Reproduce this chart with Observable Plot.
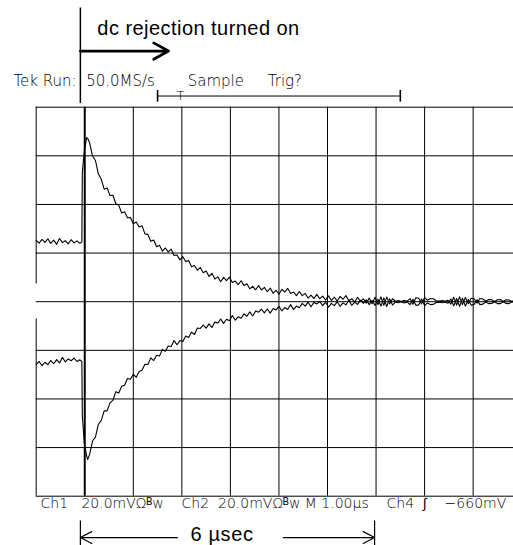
<!DOCTYPE html>
<html>
<head>
<meta charset="utf-8">
<script src="https://cdn.jsdelivr.net/npm/d3@7"></script>
<script src="https://cdn.jsdelivr.net/npm/@observablehq/plot@0.6"></script>
<style>
  html, body { margin: 0; padding: 0; background: #fff; }
  svg text { white-space: pre; }
</style>
</head>
<body>
<div id="chart"></div>
<script>
// Sample times (µs, 1.00 µs/div) shared by both channels
const timeUs = [
  0, 0.06, 0.12, 0.18, 0.24, 0.30, 0.36, 0.42, 0.48, 0.54, 0.60, 0.66, 0.72, 0.78, 0.84, 0.90, 0.94,
  0.95, 0.99, 1.04, 1.06,
  1.10,1.16,1.22,1.28,1.34,1.40,1.46,1.52,1.58,1.64,
  1.70,1.76,1.82,1.88,1.94,2.00,2.06,2.12,2.18,2.24,
  2.30,2.36,2.42,2.48,2.54,2.60,2.66,2.72,2.78,2.84,
  2.90,2.96,3.02,3.08,3.14,3.20,3.26,3.32,3.38,3.44,
  3.50,3.56,3.62,3.68,3.74,3.80,3.86,3.92,3.98,4.04,
  4.10,4.16,4.22,4.28,4.34,4.40,4.46,4.52,4.58,4.64,
  4.70,4.76,4.82,4.88,4.94,5.00,5.06,5.12,5.18,5.24,
  5.30,5.36,5.42,5.48,5.54,5.60,5.66,5.72,5.78,5.84,
  5.90,5.96,6.02,6.08,6.14,6.20,6.26,6.32,6.38,6.44,
  6.50,6.56,6.62,6.68,6.74,6.80,6.86,6.92,6.98,7.04,
  7.10,7.16,7.22,7.28,7.34,7.40,7.46,7.52,7.58,7.64,
  7.70,7.76,7.82,7.88,7.94,8.00,8.06,8.12,8.18,8.24,
  8.30,8.36,8.42,8.48,8.54,8.60,8.66,8.72,8.78,8.84,
  8.90,8.96,9.02,9.08,9.14,9.20,9.26,9.32,9.38,9.44,
  9.50,9.56,9.62,9.68,9.74,9.80,9.86
];

// Channel 1 (mV, 20 mV/div)
const ch1mV = [
  25.2, 24.1, 25.6, 24.4, 25.9, 24.0, 25.3, 23.6, 26.0, 24.3, 25.1, 23.8, 25.5, 24.2, 25.0, 24.0, 24.6,
  53.0, 62.0, 67.5, 67.2,
  65.4, 59.9, 58.1, 52.6, 50.4, 46.3, 46.8, 43.7, 43.8, 40.3,
  39.7, 36.5, 37.0, 34.5, 34.6, 32.1, 32.8, 30.7, 31.2, 27.9,
  27.7, 24.9, 25.4, 22.6, 23.2, 20.8, 22.1, 20.5, 21.6, 19.0,
  19.2, 17.2, 18.5, 16.5, 16.9, 14.4, 14.9, 12.9, 14.1, 11.9,
  12.6, 10.4, 11.7, 9.3, 10.2, 8.2, 10.0, 8.7, 10.1, 7.9,
  8.5, 7.0, 8.6, 6.7, 7.4, 5.3, 6.3, 4.9, 6.6, 4.8,
  5.9, 4.1, 5.6, 3.5, 4.7, 3.1, 5.1, 4.0, 5.5, 3.4,
  4.0, 2.5, 4.2, 2.5, 3.4, 1.5, 2.7, 1.3, 3.0, 1.2,
  2.3, 0.7, 2.4, 0.5, 1.9, 0.3, 2.2, 1.0, 2.5, 0.4,
  1.2, -0.1, 1.8, 0.2, 1.2, -0.6, 1.5, -0.8, 1.8, -1.2,
  2.0, -1.5, 1.9, -0.9, 1.2, 0.2, 0.5, 0.1, 0.6, 0.2,
  1.3, -1.1, 1.6, 1.4, -0.9, 1.7, 0.6, 1.3, 1.2, 0.4,
  0.3, 0.5, 0.2, 0.6, -1.0, 1.8, -1.4, 2.0, -1.2, 1.7,
  -0.8, 1.4, 1.2, -0.6, 1.3, 1.1, 0.2, 0.9, 0.8, 0.1,
  0.8, 0.9, 0.1, 0.8, 0.7, 0.1, 0.7
];

// Channel 2 (mV, 20 mV/div)
const ch2mV = [
  -25.8, -24.6, -26.3, -24.9, -25.9, -24.2, -25.5, -23.8, -25.2, -22.9, -24.8, -23.5, -24.3, -23.2, -24.6, -23.9, -24.6,
  -47.0, -58.0, -63.5, -64.9,
  -62.8, -57.3, -55.7, -50.5, -48.8, -44.9, -44.9, -41.6, -40.6, -37.0,
  -37.6, -34.8, -34.4, -31.6, -31.9, -29.8, -31.1, -28.7, -28.2, -25.7,
  -25.8, -23.1, -24.2, -22.0, -22.3, -19.6, -20.4, -18.2, -18.4, -16.0,
  -17.7, -16.0, -16.4, -14.1, -14.7, -12.5, -13.5, -10.8, -11.0, -9.6,
  -10.9, -9.1, -10.6, -8.4, -8.8, -7.1, -8.9, -7.2, -7.8, -5.7,
  -7.6, -6.2, -6.8, -5.0, -6.0, -4.2, -5.9, -3.8, -4.3, -3.1,
  -4.6, -3.0, -4.7, -2.8, -3.4, -1.9, -3.8, -2.4, -3.2, -1.2,
  -3.2, -1.8, -2.5, -0.7, -1.8, -0.2, -2.1, -0.3, -0.9, 0.1,
  -1.6, -0.2, -2.2, -0.7, -1.6, -0.1, -1.9, -0.5, -1.3, 0.6,
  -1.5, -0.2, -1.1, 0.6, -0.7, 0.8, -1.2, 0.6, -1.6, 1.0,
  -1.8, 1.6, -2.0, 1.2, -1.4, -0.1, -0.4, 0.0, -0.5, -0.1,
  -1.2, 1.0, -1.5, -1.3, 1.1, -1.6, -0.5, -1.2, -1.1, -0.3,
  -0.2, -0.4, -0.1, -0.6, 1.1, -1.7, 1.3, -1.9, 1.4, -1.8,
  0.9, -1.5, -1.1, 0.8, -1.2, -1.0, -0.1, -0.8, -0.7, 0.0,
  -0.8, -0.8, 0.0, -0.7, -0.8, 0.0, -0.6
];

// Graticule divisions
const gridXus = [0, 1, 2, 3, 4, 5, 6, 7, 8, 9, 10];
const gridYmV = [-80, -60, -40, -20, 0, 20, 40, 60, 80];

// Texts
const noteText = "dc rejection turned on";
const headerLeft = "Tek Run:  50.0MS/s";
const headerRight = "Sample     Trig?";
const footerText = "Ch1   20.0mVΩᴮw    Ch2  20.0mVΩᴮw M 1.00µs    Ch4  ∫    −660mV";
const spanText = "6 µsec";
const triggerMark = "T";

const rows = timeUs.map((t, i) => ({t, ch1: ch1mV[i], ch2: ch2mV[i]}));

const scope = "DejaVu Sans, Verdana, sans-serif";
const sans = "Liberation Sans, Arial, Helvetica, sans-serif";

const chart = Plot.plot({
  width: 513,
  height: 545,
  x: {domain: [0, 10], range: [35.7, 521.2], axis: null},
  y: {domain: [-80, 80], range: [495.7, 106.7], axis: null},
  style: {background: "white", color: "black"},
  marks: [
    // graticule
    Plot.ruleX(gridXus.filter(d => d >= 2), {y1: -80, y2: 80, stroke: "#000", strokeWidth: 1}),
    Plot.ruleX(gridXus.filter(d => d === 1), {y1: -80, y2: 80, stroke: "#000", strokeWidth: 2}),
    Plot.ruleX(gridXus.filter(d => d === 0), {y1: 80, y2: 7.3, stroke: "#000", strokeWidth: 1}),
    Plot.ruleX(gridXus.filter(d => d === 0), {y1: -7.1, y2: -80, stroke: "#000", strokeWidth: 1}),
    Plot.ruleY(gridYmV, {x1: 0, x2: 10, stroke: "#000", strokeWidth: 1}),
    // traces
    Plot.line(rows, {x: "t", y: "ch1", stroke: "#000", strokeWidth: 1.1}),
    Plot.line(rows, {x: "t", y: "ch2", stroke: "#000", strokeWidth: 1.1}),
    // header
    Plot.text([headerLeft], {x: -0.468, y: 88.7, text: d => d, textAnchor: "start", lineAnchor: "bottom",
      fontFamily: scope, fontSize: 15, fontWeight: 200, fill: "#000"}),
    Plot.text([headerRight], {x: 3.12, y: 88.7, text: d => d, textAnchor: "start", lineAnchor: "bottom",
      fontFamily: scope, fontSize: 15, fontWeight: 200, fill: "#000"}),
    // record bracket
    Plot.ruleY([84.6], {x1: 2.5, x2: 7.5, stroke: "#000", strokeWidth: 1}),
    Plot.ruleX([2.5, 7.5], {y1: 86.9, y2: 82.1, stroke: "#000", strokeWidth: 1.6}),
    Plot.text([triggerMark], {x: 2.97, y: 83.0, text: d => d, textAnchor: "middle", lineAnchor: "bottom",
      fontFamily: scope, fontSize: 13, fontWeight: 200, fill: "#000"}),
    // annotation: dc rejection
    Plot.ruleX([0.91], {y1: 120.8, y2: 81.5, stroke: "#000", strokeWidth: 1.5}),
    Plot.arrow([0], {x1: 0.91, y1: 103.1, x2: 2.725, y2: 103.1, stroke: "#000", strokeWidth: 2.7,
      headLength: 9.4, headAngle: 58}),
    Plot.text([noteText], {x: 1.26, y: 109.6, text: d => d, textAnchor: "start", lineAnchor: "bottom",
      fontFamily: sans, fontSize: 20, fill: "#000"}),
    // footer
    Plot.text([footerText], {x: 0.089, y: -84.7, text: d => d, textAnchor: "start", lineAnchor: "bottom",
      fontFamily: scope, fontSize: 14, fontWeight: 200, fill: "#000"}),
    // 6 µsec span
    Plot.ruleX([0.91, 6.97], {y1: -90.2, y2: -101, stroke: "#000", strokeWidth: 1.2}),
    Plot.arrow([0], {x1: 2.91, y1: -97.0, x2: 0.91, y2: -97.0, stroke: "#000", strokeWidth: 1.2,
      headLength: 16, headAngle: 55}),
    Plot.arrow([0], {x1: 5.09, y1: -97.0, x2: 6.97, y2: -97.0, stroke: "#000", strokeWidth: 1.2,
      headLength: 16, headAngle: 55}),
    Plot.text([spanText], {x: 3.18, y: -98.4, text: d => d, textAnchor: "start", lineAnchor: "bottom",
      fontFamily: sans, fontSize: 20, fill: "#000"})
  ]
});

// slight horizontal stretch of the hand-written annotations, as in the original figure
d3.select(chart).selectAll("text").each(function () {
  if (this.textContent === noteText) this.style.letterSpacing = "0.45px";
  if (this.textContent === spanText) this.style.letterSpacing = "0.6px";
});

document.getElementById("chart").appendChild(chart);
</script>
</body>
</html>
